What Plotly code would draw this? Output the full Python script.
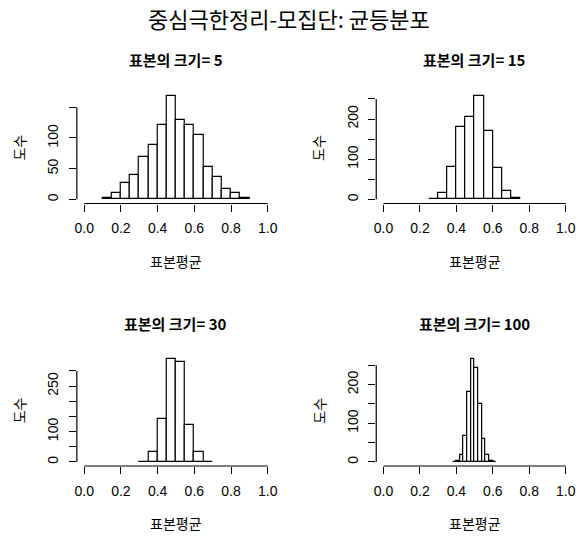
import plotly.graph_objects as go

# ---- data ----
main_title = "중심극한정리-모집단: 균등분포"
panel_titles = ["표본의 크기= 5", "표본의 크기= 15", "표본의 크기= 30", "표본의 크기= 100"]
x_title = "표본평균"
y_title = "도수"

# bin edges and counts for each panel
breaks_n5 = [0.10, 0.15, 0.20, 0.25, 0.30, 0.35, 0.40, 0.45, 0.50, 0.55, 0.60, 0.65, 0.70, 0.75, 0.80, 0.85, 0.90]
counts_n5 = [2, 11, 26, 40, 69, 88, 121, 168, 129, 121, 104, 52, 37, 17, 10, 2]

breaks_n15 = [0.25, 0.30, 0.35, 0.40, 0.45, 0.50, 0.55, 0.60, 0.65, 0.70, 0.75]
counts_n15 = [2, 16, 81, 179, 205, 257, 171, 79, 22, 3]

breaks_n30 = [0.30, 0.35, 0.40, 0.45, 0.50, 0.55, 0.60, 0.65, 0.70]
counts_n30 = [1, 33, 143, 339, 330, 121, 33, 1]

breaks_n100 = [0.38, 0.40, 0.42, 0.44, 0.46, 0.48, 0.50, 0.52, 0.54, 0.56, 0.58, 0.60, 0.62]
counts_n100 = [1, 3, 19, 67, 181, 266, 242, 149, 58, 17, 2, 1]

x_ticks = [0.0, 0.2, 0.4, 0.6, 0.8, 1.0]
x_ticklabels = ["0.0", "0.2", "0.4", "0.6", "0.8", "1.0"]

y_ticks_n5 = [0, 50, 100, 150]
y_labels_n5 = ["0", "50", "100", ""]
y_ticks_n15 = [0, 50, 100, 150, 200, 250]
y_labels_n15 = ["0", "", "100", "", "200", ""]
y_ticks_n30 = [0, 50, 100, 150, 200, 250, 300]
y_labels_n30 = ["0", "", "100", "", "", "250", ""]
y_ticks_n100 = [0, 50, 100, 150, 200, 250]
y_labels_n100 = ["0", "", "100", "", "200", ""]

panels = [
    (breaks_n5, counts_n5, y_ticks_n5, y_labels_n5),
    (breaks_n15, counts_n15, y_ticks_n15, y_labels_n15),
    (breaks_n30, counts_n30, y_ticks_n30, y_labels_n30),
    (breaks_n100, counts_n100, y_ticks_n100, y_labels_n100),
]

# ---- layout geometry ----
W, H = 578, 539
col_px = [(75.5, 275.5), (377.5, 576.0)]
row_px = [(92.0, 203.5), (355.0, 466.0)]
X_RANGE = [-0.04, 1.04]

NUM_FONT = "Liberation Sans, Arial, Noto Sans CJK KR, sans-serif"
KR_FONT = "Noto Sans CJK KR, sans-serif"
LW = 1.2

fig = go.Figure()
layout = dict(
    width=W, height=H,
    margin=dict(l=0, r=0, t=0, b=0),
    paper_bgcolor="white", plot_bgcolor="white",
    showlegend=False,
    bargap=0,
)
annotations = []
shapes = []


def to_paper(v, rng, dom):
    return dom[0] + (v - rng[0]) / (rng[1] - rng[0]) * (dom[1] - dom[0])


for i, (brk, cnt, yt, yl) in enumerate(panels):
    r, c = divmod(i, 2)
    ax = "" if i == 0 else str(i + 1)
    xname, yname = "x" + ax, "y" + ax
    centers = [(brk[k] + brk[k + 1]) / 2 for k in range(len(cnt))]
    widths = [brk[k + 1] - brk[k] for k in range(len(cnt))]
    fig.add_trace(go.Bar(
        x=centers, y=cnt, width=widths,
        marker=dict(color="white", line=dict(color="black", width=LW)),
        xaxis=xname, yaxis=yname, hoverinfo="skip",
    ))
    x0, x1 = col_px[c]
    y0, y1 = row_px[r]
    xdom = [x0 / W, x1 / W]
    ydom = [1 - y1 / H, 1 - y0 / H]
    ymax = max(cnt)
    yrng = [-0.04 * ymax, 1.04 * ymax]
    layout["xaxis" + ax] = dict(
        domain=xdom, anchor=yname,
        range=X_RANGE, showgrid=False, zeroline=False, showline=False,
        tickmode="array", tickvals=x_ticks, ticktext=x_ticklabels,
        ticks="outside", ticklen=7, tickwidth=LW, tickcolor="black",
        ticklabelstandoff=5,
        tickfont=dict(family=NUM_FONT, size=14, color="black"),
        fixedrange=True,
    )
    layout["yaxis" + ax] = dict(
        domain=ydom, anchor=xname,
        range=yrng, showgrid=False, zeroline=False, showline=False,
        tickmode="array", tickvals=yt, ticktext=yl, tickangle=-90,
        ticks="outside", ticklen=7, tickwidth=LW, tickcolor="black",
        ticklabelstandoff=5,
        tickfont=dict(family=NUM_FONT, size=14, color="black"),
        fixedrange=True,
    )
    # axis lines spanning first to last tick (R style)
    shapes.append(dict(type="line", xref="paper", yref="paper",
                       x0=to_paper(x_ticks[0], X_RANGE, xdom), x1=to_paper(x_ticks[-1], X_RANGE, xdom),
                       y0=ydom[0], y1=ydom[0],
                       line=dict(color="black", width=LW)))
    shapes.append(dict(type="line", xref="paper", yref="paper",
                       x0=xdom[0], x1=xdom[0],
                       y0=to_paper(yt[0], yrng, ydom), y1=to_paper(yt[-1], yrng, ydom),
                       line=dict(color="black", width=LW)))
    # panel title
    annotations.append(dict(text="<b>" + panel_titles[i] + "</b>", xref=xname + " domain", yref=yname + " domain",
                            x=0.5, y=1, yshift=32, showarrow=False, xanchor="center", yanchor="middle",
                            font=dict(family=KR_FONT, size=15, color="black")))
    # x title
    annotations.append(dict(text=x_title, xref=xname + " domain", yref=yname + " domain",
                            x=0.5, y=0, yshift=-57, showarrow=False, xanchor="center", yanchor="middle",
                            font=dict(family=KR_FONT, size=14, color="black")))
    # y title
    annotations.append(dict(text=y_title, xref=xname + " domain", yref=yname + " domain",
                            x=0, y=0.5, xshift=-58, textangle=-90, showarrow=False,
                            xanchor="center", yanchor="middle",
                            font=dict(family=KR_FONT, size=14, color="black")))

annotations.append(dict(text=main_title, xref="paper", yref="paper", x=0.5, y=1, yshift=-18,
                        showarrow=False, xanchor="center", yanchor="middle",
                        font=dict(family=KR_FONT, size=22, color="black")))

layout["annotations"] = annotations
layout["shapes"] = shapes
fig.update_layout(**layout)
fig.write_html("out.html")
